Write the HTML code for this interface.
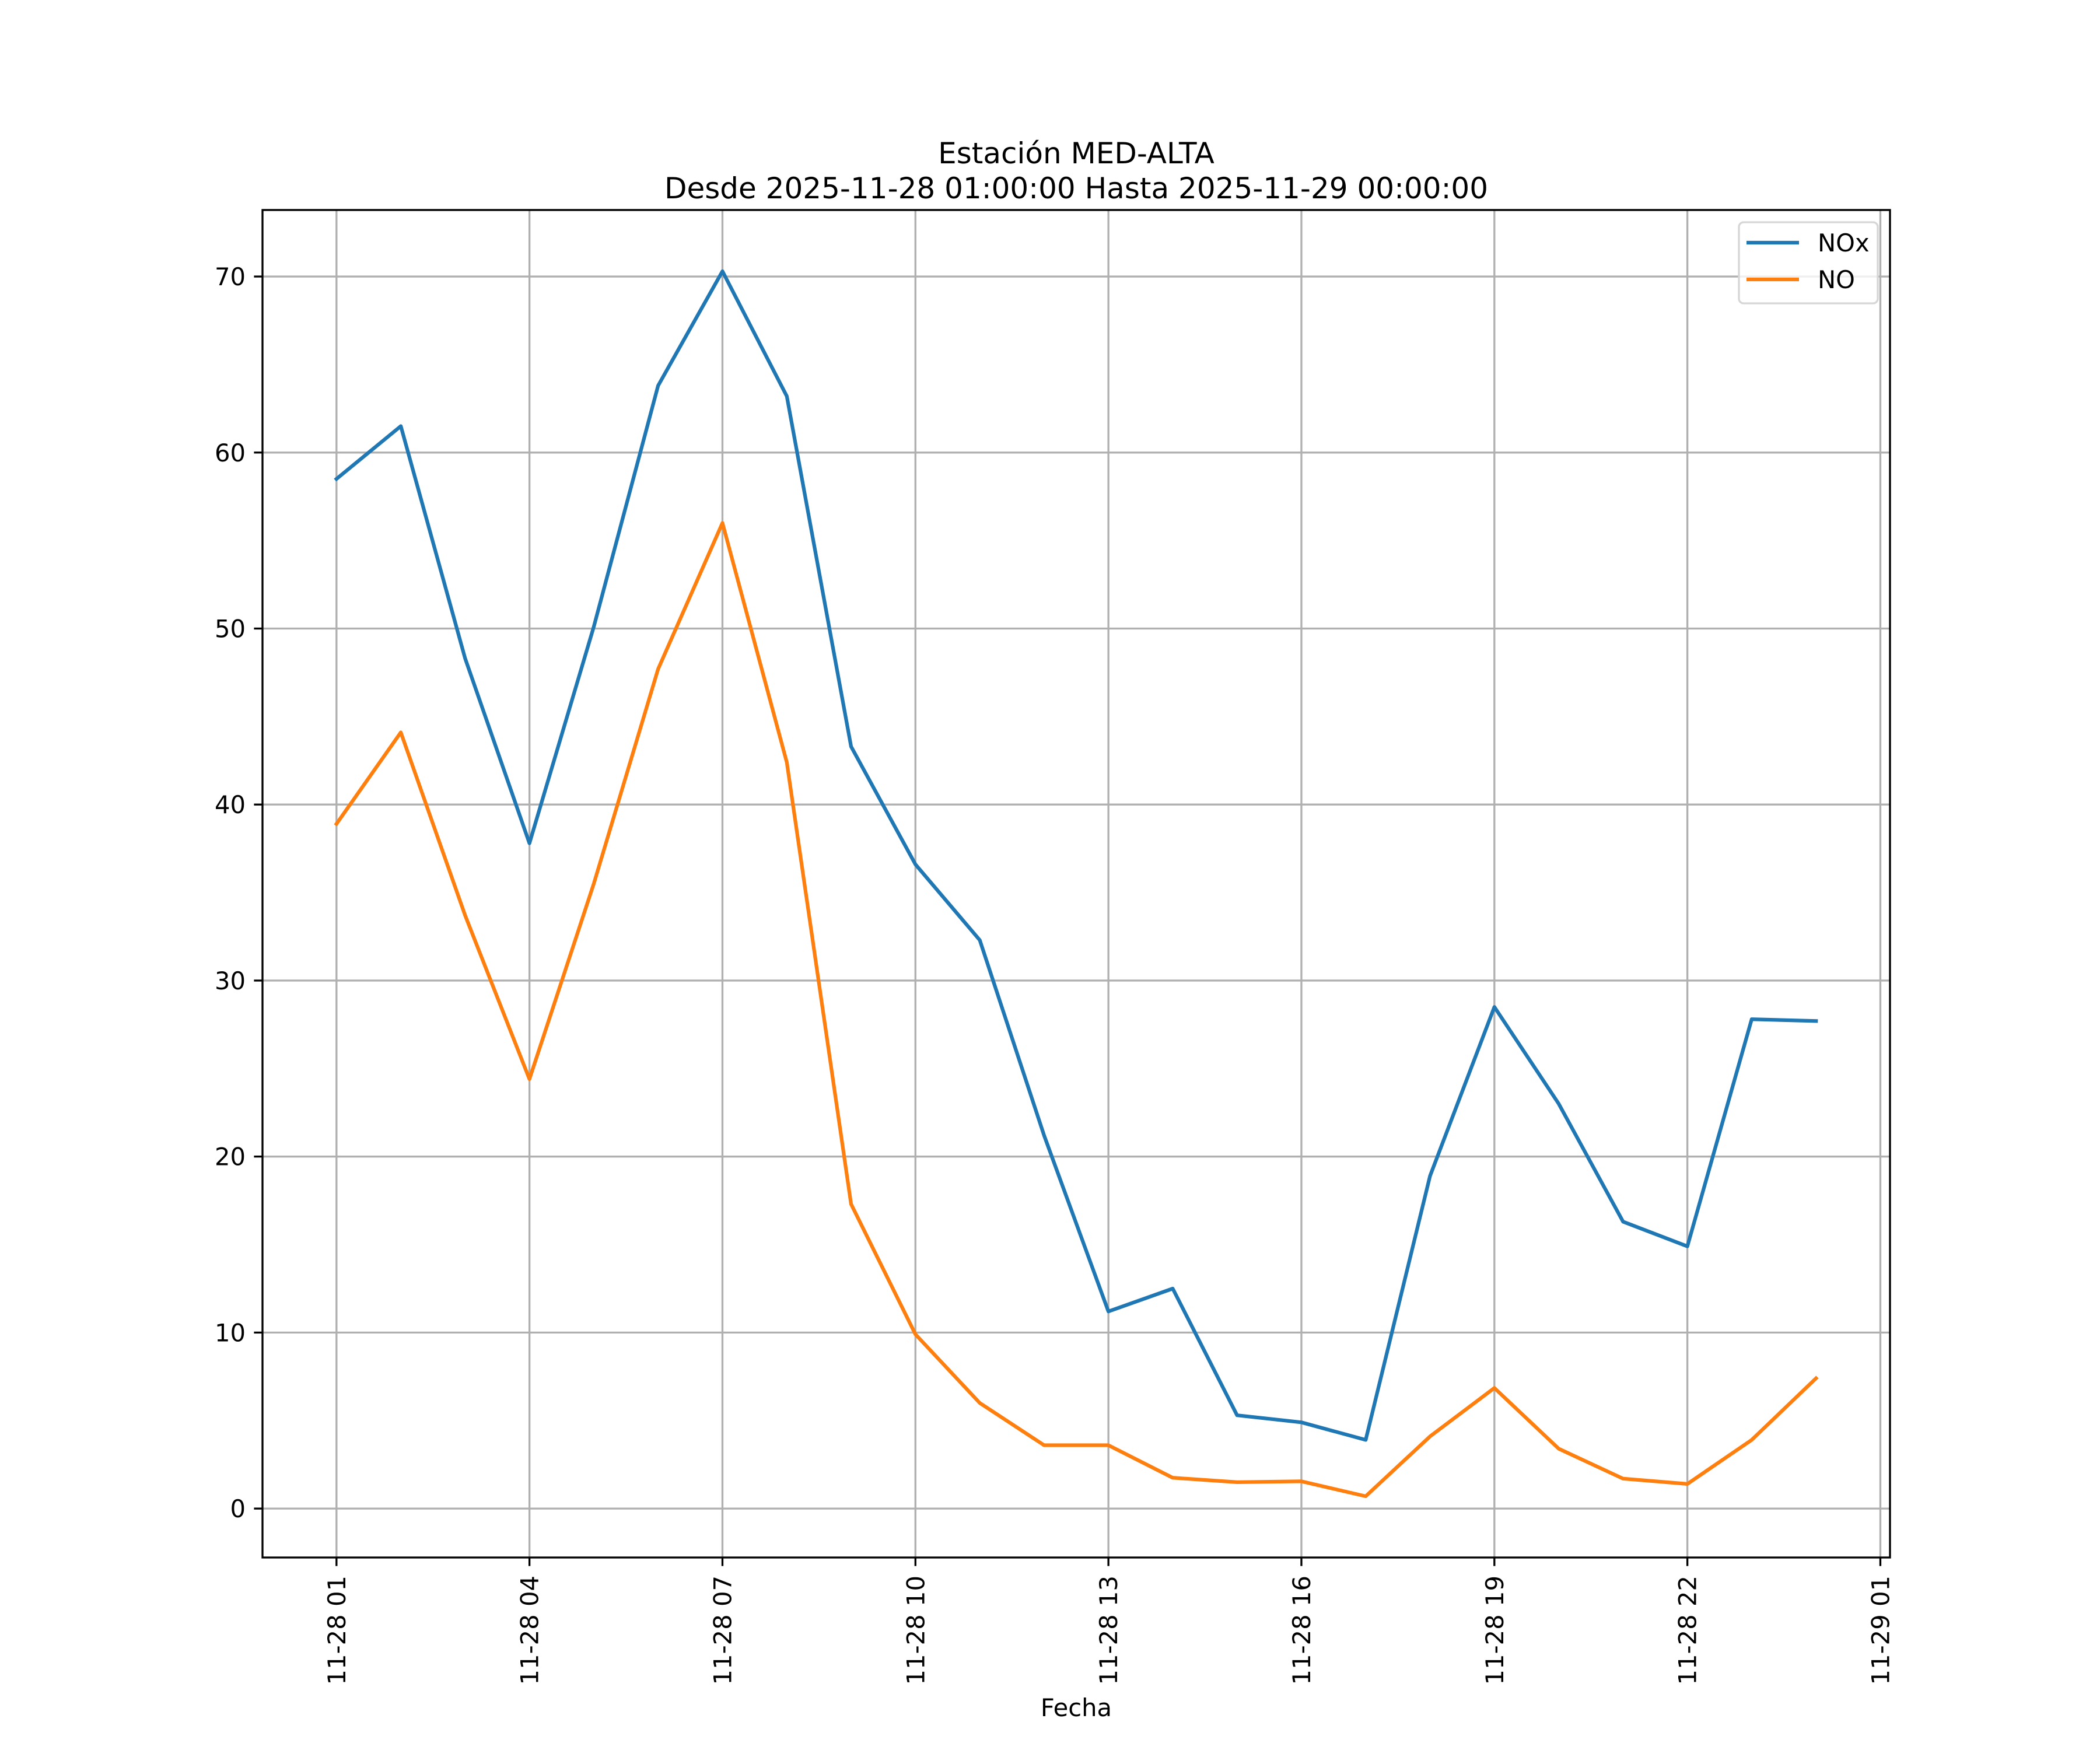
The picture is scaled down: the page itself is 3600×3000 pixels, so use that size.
<!DOCTYPE html>
<html><head><meta charset="utf-8"><style>
html,body{margin:0;padding:0;background:#fff}
svg{display:block;font-family:"DejaVu Sans","Liberation Sans",sans-serif}
</style></head><body>
<svg id="chart" width="3600" height="3000" viewBox="0 0 3600 3000" xmlns="http://www.w3.org/2000/svg">
<rect width="3600" height="3000" fill="#fff"/>
<text x="1845" y="280" font-size="50" text-anchor="middle">Estación MED-ALTA</text>
<text x="1845" y="340" font-size="50" text-anchor="middle">Desde 2025-11-28 01:00:00 Hasta 2025-11-29 00:00:00</text>
<g id="grid"></g>
<g id="series"></g>
<rect x="450" y="360" width="2790" height="2310" fill="none" stroke="#000" stroke-width="3.33"/>
<g id="ticks"></g>
<text x="1845" y="2942" font-size="41.7" text-anchor="middle">Fecha</text>
<g>
<rect x="2981" y="381" width="238" height="139" rx="8" fill="#fff" fill-opacity="0.8" stroke="#d6d6d6" stroke-width="3.33"/>
<line x1="2994" y1="416" x2="3084" y2="416" stroke="#1f77b4" stroke-width="6.25"/>
<text x="3116" y="431" font-size="41.7">NOx</text>
<line x1="2994" y1="479" x2="3084" y2="479" stroke="#ff7f0e" stroke-width="6.25"/>
<text x="3116" y="494" font-size="41.7">NO</text>
</g>
</svg>
<script>
const hours = [0,1,2,3,4,5,6,7,8,9,10,11,12,13,14,15,16,17,18,19,20,21,22,23];
const noxValues = [58.5,61.5,48.3,37.8,50.1,63.8,70.3,63.2,43.3,36.6,32.3,21.2,11.2,12.5,5.3,4.9,3.9,18.9,28.5,23.0,16.3,14.9,27.8,27.7];
const noValues = [38.9,44.1,33.7,24.4,35.5,47.7,56.0,42.4,17.3,9.9,6.0,3.6,3.6,1.75,1.5,1.55,0.7,4.1,6.85,3.4,1.7,1.4,3.9,7.4];
const yTicks = [0,10,20,30,40,50,60,70];
const xTickHours = [0,3,6,9,12,15,18,21,24];
const xTickLabels = ["11-28 01","11-28 04","11-28 07","11-28 10","11-28 13","11-28 16","11-28 19","11-28 22","11-29 01"];

const NS = "http://www.w3.org/2000/svg";
const L=450,R=3240,T=360,B=2670;
const allV = noxValues.concat(noValues);
const vmin=Math.min(...allV), vmax=Math.max(...allV), vr=vmax-vmin;
const y0=vmin-0.05*vr, y1=vmax+0.05*vr;
const hmin=Math.min(...hours), hmax=Math.max(...hours), hr=hmax-hmin;
const x0=hmin-0.05*hr, x1=hmax+0.05*hr;
function xs(h){return L+(h-x0)/(x1-x0)*(R-L);}
function ys(v){return B-(v-y0)/(y1-y0)*(B-T);}
function mk(tag,attrs,parent){const e=document.createElementNS(NS,tag);for(const k in attrs)e.setAttribute(k,attrs[k]);parent.appendChild(e);return e;}
const grid=document.getElementById('grid'), ticks=document.getElementById('ticks'), series=document.getElementById('series');
yTicks.forEach(v=>{
  const y=ys(v);
  const g=mk('line',{x1:L,x2:R,y1:y,y2:y,stroke:'#b0b0b0','stroke-width':3.33},grid);
  
  
  const t=mk('line',{x1:L-14.6,x2:L,y1:y,y2:y,stroke:'#000','stroke-width':3.33},ticks);
  
  
  const tx=mk('text',{x:L-29,y:y+15,'font-size':41.7,'text-anchor':'end'},ticks);
  tx.textContent=String(v);
  
  
});
xTickHours.forEach((h,i)=>{
  const x=xs(h);
  const g=mk('line',{x1:x,x2:x,y1:T,y2:B,stroke:'#b0b0b0','stroke-width':3.33},grid);
  
  
  const t=mk('line',{x1:x,x2:x,y1:B,y2:B+14.6,stroke:'#000','stroke-width':3.33},ticks);
  
  
  const tx=mk('text',{x:0,y:0,'font-size':41.7,'text-anchor':'end',transform:`translate(${x+15},${B+31}) rotate(-90)`},ticks);
  tx.textContent=xTickLabels[i];
  
  
});
function drawLine(vals,color,name){
  const pts=hours.map((h,i)=>xs(h).toFixed(1)+','+ys(vals[i]).toFixed(1)).join(' ');
  const p=mk('polyline',{points:pts,fill:'none',stroke:color,'stroke-width':6.25,'stroke-linejoin':'round','stroke-linecap':'square'},series);
  
  
}
drawLine(noxValues,'#1f77b4','nox-line');
drawLine(noValues,'#ff7f0e','no-line');
</script>
</body></html>
